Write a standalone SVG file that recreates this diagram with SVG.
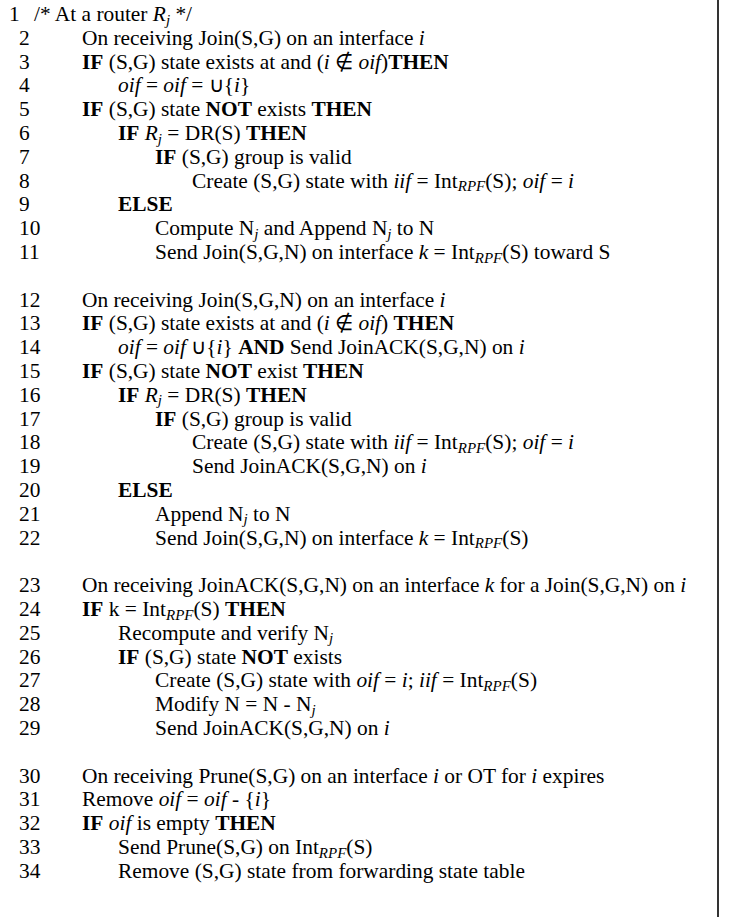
<svg xmlns="http://www.w3.org/2000/svg" width="732" height="917" viewBox="0 0 732 917">
<style>
text{font-family:"Liberation Serif","Times New Roman",serif;font-size:21.4px;fill:#000}
.b{font-weight:bold}
.m{font-style:italic}
.s{font-size:15px;font-style:italic}
</style>
<rect width="732" height="917" fill="#fff"/>
<line x1="718" y1="0" x2="718" y2="917" stroke="#000" stroke-width="1.6"/>
<g id="numbers">
<text x="9" y="21">1</text>
<text x="34" y="21">/* At a router <tspan class="m">R</tspan><tspan class="s" dy="3.5">j</tspan><tspan dy="-3.5"> */</tspan></text>
<text x="19" y="44.8">2</text>
<text x="19" y="68.6">3</text>
<text x="19" y="92.4">4</text>
<text x="19" y="116.2">5</text>
<text x="19" y="140">6</text>
<text x="19" y="163.8">7</text>
<text x="19" y="187.6">8</text>
<text x="19" y="211.4">9</text>
<text x="19" y="235.2">10</text>
<text x="19" y="259">11</text>
<text x="19" y="306.6">12</text>
<text x="19" y="330.4">13</text>
<text x="19" y="354.2">14</text>
<text x="19" y="378">15</text>
<text x="19" y="401.8">16</text>
<text x="19" y="425.6">17</text>
<text x="19" y="449.4">18</text>
<text x="19" y="473.2">19</text>
<text x="19" y="497">20</text>
<text x="19" y="520.8">21</text>
<text x="19" y="544.6">22</text>
<text x="19" y="592.2">23</text>
<text x="19" y="616">24</text>
<text x="19" y="639.8">25</text>
<text x="19" y="663.6">26</text>
<text x="19" y="687.4">27</text>
<text x="19" y="711.2">28</text>
<text x="19" y="735">29</text>
<text x="19" y="782.6">30</text>
<text x="19" y="806.4">31</text>
<text x="19" y="830.2">32</text>
<text x="19" y="854">33</text>
<text x="19" y="877.8">34</text>
</g>
<g id="join">
<text x="82" y="44.8">On receiving Join(S,G) on an interface <tspan class="m">i</tspan></text>
<text x="82" y="68.6"><tspan class="b">IF</tspan> (S,G) state exists at and (<tspan class="m">i</tspan> ∉ <tspan class="m">oif</tspan>)<tspan class="b">THEN</tspan></text>
<text x="118" y="92.4"><tspan class="m">oif</tspan> = <tspan class="m">oif</tspan> = ∪{<tspan class="m">i</tspan>}</text>
<text x="82" y="116.2"><tspan class="b">IF</tspan> (S,G) state <tspan class="b">NOT</tspan> exists <tspan class="b">THEN</tspan></text>
<text x="118" y="140"><tspan class="b">IF</tspan> <tspan class="m">R</tspan><tspan class="s" dy="3.5">j</tspan><tspan dy="-3.5"> = DR(S) </tspan><tspan class="b">THEN</tspan></text>
<text x="155" y="163.8"><tspan class="b">IF</tspan> (S,G) group is valid</text>
<text x="192" y="187.6">Create (S,G) state with <tspan class="m">iif</tspan> = Int<tspan class="s" dy="3.5">RPF</tspan><tspan dy="-3.5">(S); </tspan><tspan class="m">oif</tspan> = <tspan class="m">i</tspan></text>
<text x="118" y="211.4" class="b">ELSE</text>
<text x="155" y="235.2">Compute N<tspan class="s" dy="3.5">j</tspan><tspan dy="-3.5"> and Append N</tspan><tspan class="s" dy="3.5">j</tspan><tspan dy="-3.5"> to N</tspan></text>
<text x="155" y="259">Send Join(S,G,N) on interface <tspan class="m">k</tspan> = Int<tspan class="s" dy="3.5">RPF</tspan><tspan dy="-3.5">(S) toward S</tspan></text>
</g>
<g id="joinN">
<text x="82" y="306.6">On receiving Join(S,G,N) on an interface <tspan class="m">i</tspan></text>
<text x="82" y="330.4"><tspan class="b">IF</tspan> (S,G) state exists at and (<tspan class="m">i</tspan> ∉ <tspan class="m">oif</tspan>) <tspan class="b">THEN</tspan></text>
<text x="118" y="354.2"><tspan class="m">oif</tspan> = <tspan class="m">oif</tspan> ∪{<tspan class="m">i</tspan>} <tspan class="b">AND</tspan> Send JoinACK(S,G,N) on <tspan class="m">i</tspan></text>
<text x="82" y="378"><tspan class="b">IF</tspan> (S,G) state <tspan class="b">NOT</tspan> exist <tspan class="b">THEN</tspan></text>
<text x="118" y="401.8"><tspan class="b">IF</tspan> <tspan class="m">R</tspan><tspan class="s" dy="3.5">j</tspan><tspan dy="-3.5"> = DR(S) </tspan><tspan class="b">THEN</tspan></text>
<text x="155" y="425.6"><tspan class="b">IF</tspan> (S,G) group is valid</text>
<text x="192" y="449.4">Create (S,G) state with <tspan class="m">iif</tspan> = Int<tspan class="s" dy="3.5">RPF</tspan><tspan dy="-3.5">(S); </tspan><tspan class="m">oif</tspan> = <tspan class="m">i</tspan></text>
<text x="192" y="473.2">Send JoinACK(S,G,N) on <tspan class="m">i</tspan></text>
<text x="118" y="497" class="b">ELSE</text>
<text x="155" y="520.8">Append N<tspan class="s" dy="3.5">j</tspan><tspan dy="-3.5"> to N</tspan></text>
<text x="155" y="544.6">Send Join(S,G,N) on interface <tspan class="m">k</tspan> = Int<tspan class="s" dy="3.5">RPF</tspan><tspan dy="-3.5">(S)</tspan></text>
</g>
<g id="joinack">
<text x="82" y="592.2">On receiving JoinACK(S,G,N) on an interface <tspan class="m">k</tspan> for a Join(S,G,N) on <tspan class="m">i</tspan></text>
<text x="82" y="616"><tspan class="b">IF</tspan> k = Int<tspan class="s" dy="3.5">RPF</tspan><tspan dy="-3.5">(S) </tspan><tspan class="b">THEN</tspan></text>
<text x="118" y="639.8">Recompute and verify N<tspan class="s" dy="3.5">j</tspan></text>
<text x="118" y="663.6"><tspan class="b">IF</tspan> (S,G) state <tspan class="b">NOT</tspan> exists</text>
<text x="155" y="687.4">Create (S,G) state with <tspan class="m">oif</tspan> = <tspan class="m">i</tspan>; <tspan class="m">iif</tspan> = Int<tspan class="s" dy="3.5">RPF</tspan><tspan dy="-3.5">(S)</tspan></text>
<text x="155" y="711.2">Modify N = N - N<tspan class="s" dy="3.5">j</tspan></text>
<text x="155" y="735">Send JoinACK(S,G,N) on <tspan class="m">i</tspan></text>
</g>
<g id="prune">
<text x="82" y="782.6">On receiving Prune(S,G) on an interface <tspan class="m">i</tspan> or OT for <tspan class="m">i</tspan> expires</text>
<text x="82" y="806.4">Remove <tspan class="m">oif</tspan> = <tspan class="m">oif</tspan> - {<tspan class="m">i</tspan>}</text>
<text x="82" y="830.2"><tspan class="b">IF</tspan> <tspan class="m">oif</tspan> is empty <tspan class="b">THEN</tspan></text>
<text x="118" y="854">Send Prune(S,G) on Int<tspan class="s" dy="3.5">RPF</tspan><tspan dy="-3.5">(S)</tspan></text>
<text x="118" y="877.8">Remove (S,G) state from forwarding state table</text>
</g>
</svg>
